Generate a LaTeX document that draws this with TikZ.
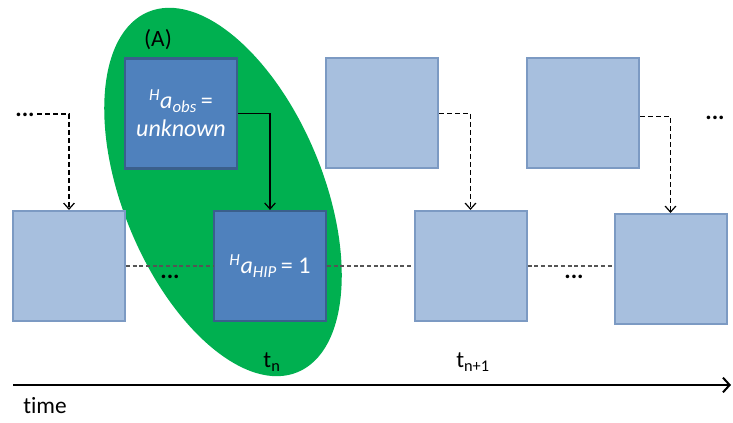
\documentclass[tikz,border=0pt]{standalone}
\usepackage{fontspec}
\setmainfont{Carlito}[Ligatures=NoCommon]
\usetikzlibrary{arrows.meta}
\definecolor{lightfill}{HTML}{A7BFDE}
\definecolor{lightedge}{HTML}{7C9AC3}
\definecolor{darkfill}{HTML}{4F81BD}
\definecolor{darkedge}{HTML}{3A5F8C}
\definecolor{groupgreen}{HTML}{00B050}
\definecolor{linkgrey}{HTML}{555555}
\tikzset{
  lbox/.style={draw=lightedge, fill=lightfill, line width=1.5pt,
    minimum width=84pt, minimum height=82.5pt, inner sep=0pt},
  dbox/.style={draw=darkedge, fill=darkfill, line width=1.7pt,
    minimum width=84pt, minimum height=82.5pt, inner sep=0pt,
    text=white, font=\fontsize{18}{22}\selectfont, align=center},
  chev/.style={-{Straight Barb[length=4.5pt,width=8pt]}},
  dashlink/.style={chev, draw=black, line width=0.9pt, dash pattern=on 3.5pt off 2.5pt},
  solidlink/.style={chev, draw=black, line width=0.9pt},
  chainlink/.style={draw=linkgrey, line width=0.9pt, dash pattern=on 3pt off 2pt},
  lbl/.style={font=\fontsize{17.5}{20}\selectfont, inner sep=0pt},
  dots/.style={font=\fontsize{18}{20}\selectfont\bfseries, inner sep=0pt, anchor=base}
}
\begin{document}
\begin{tikzpicture}[x=0.75pt, y=0.75pt]
\useasboundingbox (0,0) rectangle (733,423);

% group of the n-th time step
\fill[groupgreen, rotate around={-67.5:(223,231)}] (223,231) ellipse [x radius=195, y radius=100];

% observation layer (top row)
\node[dbox] (A) at (181,309.5) {\textsuperscript{\textit{H}}\textit{a}\textsubscript{\textit{obs}}\,=\\[-1pt]\textit{unknown}};
\node[lbox] (T2) at (382,309.5) {};
\node[lbox] (T3) at (583,309.5) {};

% state layer (bottom row)
\node[lbox] (L1) at (69,157) {};
\node[dbox] (B) at (270,157) {\textsuperscript{\textit{H}}\textit{a}\textsubscript{\textit{HIP}}\,= 1};
\node[lbox] (B3) at (470.5,157) {};
\node[lbox] (B4) at (670.5,154) {};

% links between the time steps
\draw[chainlink] (L1.east) -- (B.west);
\draw[chainlink] (B.east) -- (B3.west);
\draw[chainlink] (B3.east) -- (B3.east -| B4.west);

% observation to state links
\coordinate (s0) at (37,309);
\draw[dashlink] (s0) -- (s0 -| L1.north) -- (L1.north);
\draw[solidlink] (A.east) -- (A.east -| B.north) -- (B.north);
\draw[dashlink] (T2.east) -- (T2.east -| B3.north) -- (B3.north);
\coordinate (s3) at ([yshift=-2.5pt]T3.east);
\draw[dashlink] (s3) -- (s3 -| B4.north) -- (B4.north);

% ellipses
\node[dots] (d1) at (25,306) {...};
\node[dots] (d2) at (715,303) {...};
\node[dots] (d3) at (170,144) {...};
\node[dots] (d4) at (574,144) {...};

% labels
\node[lbl] (lA) at (158,383) {(A)};
\node[lbl] (tn) at (272,61) {t\textsubscript{n}};
\node[lbl] (tn1) at (473,61) {t\textsubscript{n+1}};

% time axis
\coordinate (ax0) at (13,38);
\coordinate (ax1) at (731,38);
\draw[line width=1.5pt, -{Straight Barb[length=5pt,width=11pt]}] (ax0) -- (ax1);
\node[lbl] (time) at (45,17) {t\kern0pt ime};
\end{tikzpicture}
\end{document}
